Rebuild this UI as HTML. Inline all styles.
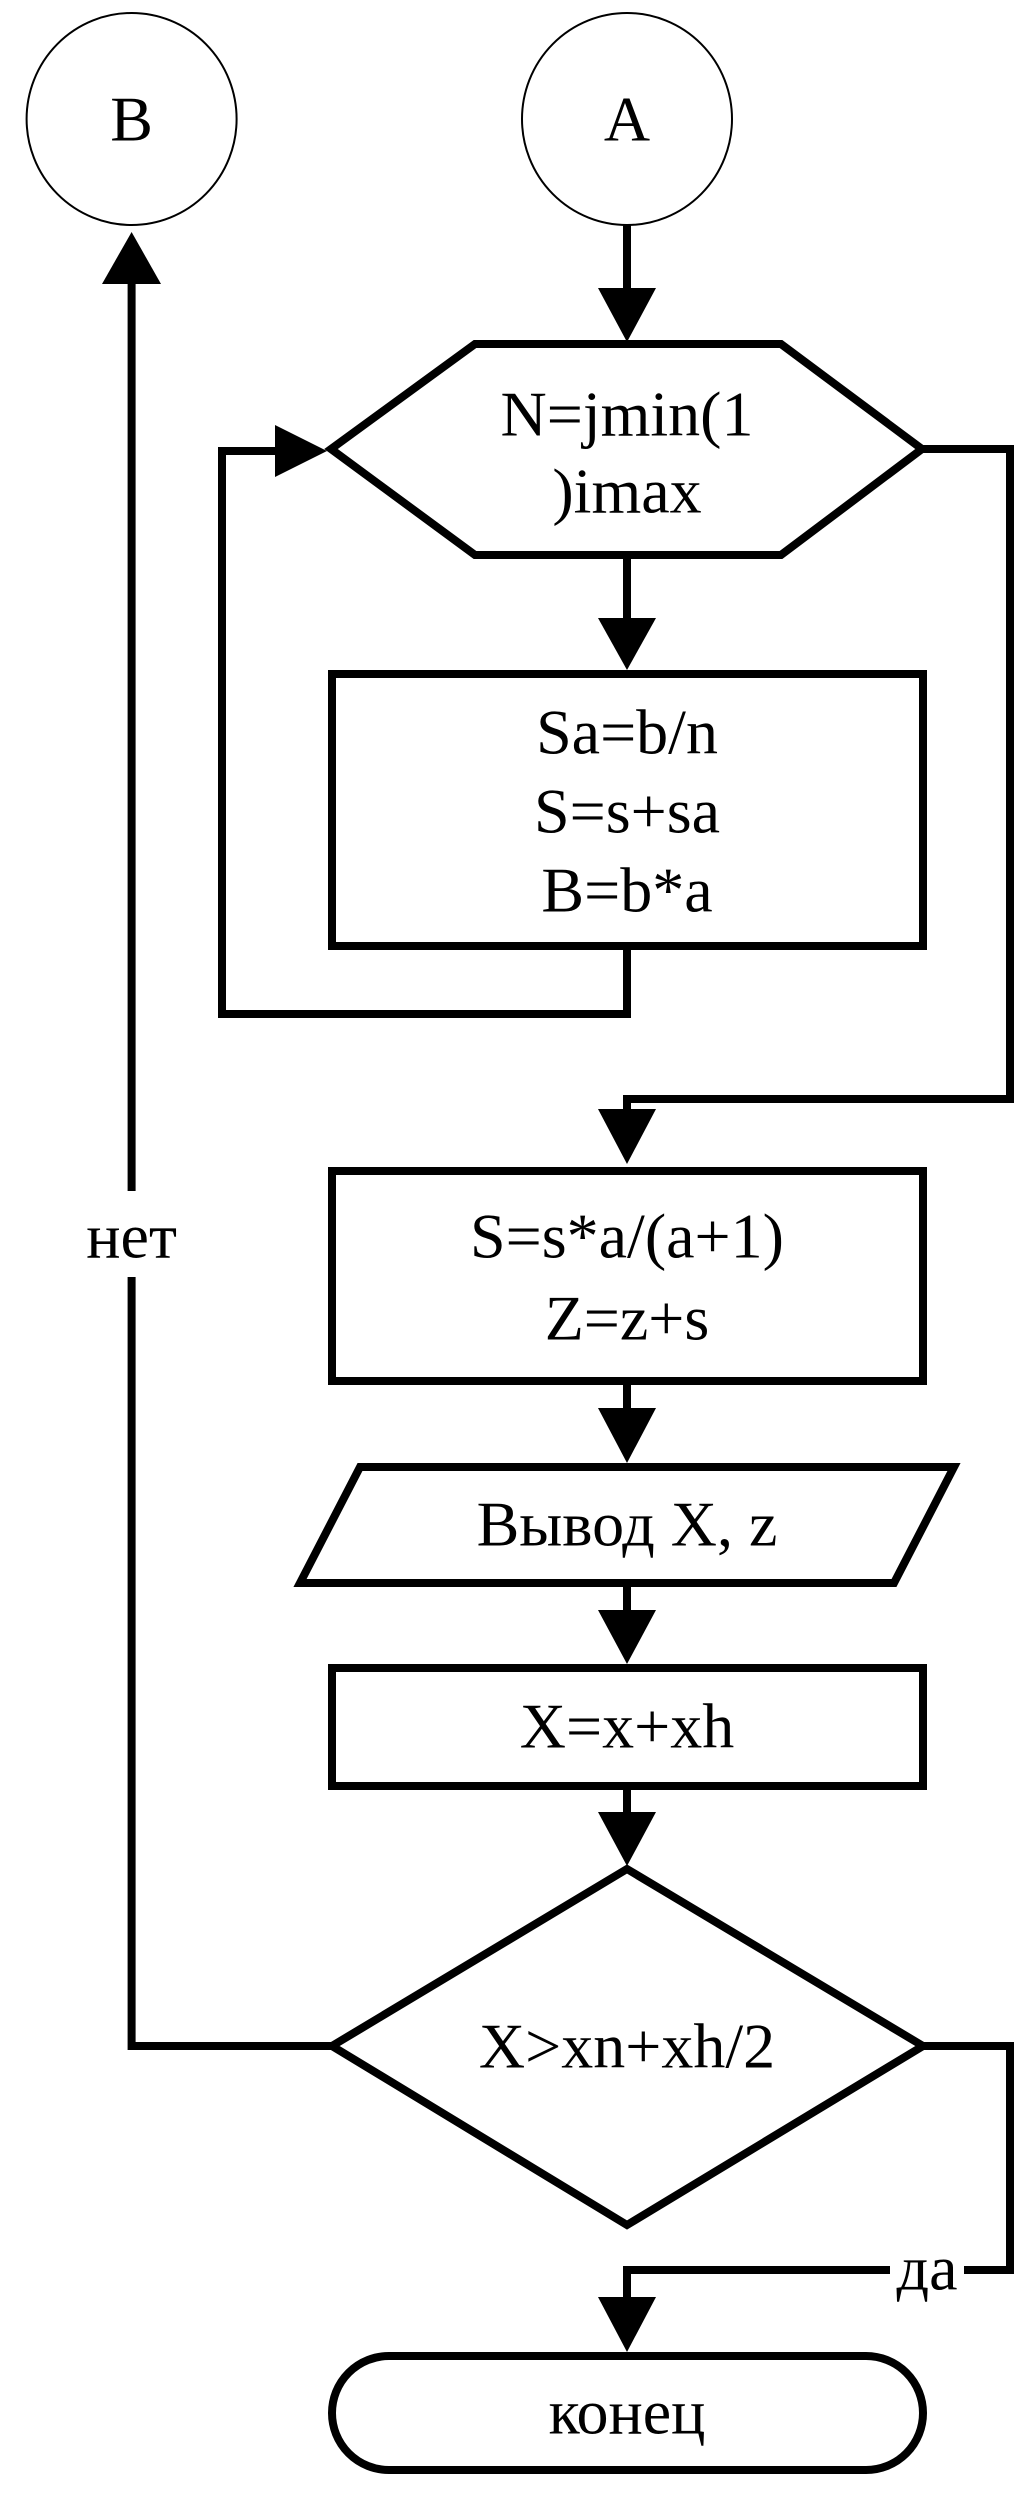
<!DOCTYPE html>
<html><head><meta charset="utf-8"><style>
html,body{margin:0;padding:0;background:#fff}
svg{display:block}
svg text{font-family:"Liberation Serif","Times New Roman",Times,serif;font-size:64px;fill:#000;text-anchor:middle;dominant-baseline:central}
</style></head><body>
<svg width="1015" height="2515" viewBox="0 0 1015 2515" xmlns="http://www.w3.org/2000/svg" font-family="Liberation Serif, serif">
<g fill="none" stroke="#000" stroke-width="8" stroke-linejoin="miter">
  <ellipse cx="131.6" cy="119" rx="105" ry="106" stroke-width="2"/>
  <ellipse cx="627" cy="119" rx="105" ry="106" stroke-width="2"/>
  <polyline points="332,2046 131.6,2046 131.6,1277"/>
  <line x1="131.6" y1="1191" x2="131.6" y2="280"/>
  <line x1="627" y1="225" x2="627" y2="290"/>
  <polygon points="475,344 781,344 922,449 781,555 475,555 331,449" fill="#fff"/>
  <line x1="627" y1="555" x2="627" y2="620"/>
  <rect x="332" y="674" width="591" height="272" fill="#fff"/>
  <polyline points="627,946 627,1014 222,1014 222,451 280,451"/>
  <polyline points="922,449 1010,449 1010,1099 627,1099 627,1112"/>
  <rect x="332" y="1171" width="591" height="210" fill="#fff"/>
  <line x1="627" y1="1381" x2="627" y2="1410"/>
  <polygon points="360,1467 954,1467 894,1583 300,1583" fill="#fff"/>
  <line x1="627" y1="1583" x2="627" y2="1612"/>
  <rect x="332" y="1668" width="591" height="118" fill="#fff"/>
  <line x1="627" y1="1786" x2="627" y2="1814"/>
  <polygon points="627,1869 923,2046 627,2225 332,2046" fill="#fff"/>
  <polyline points="923,2046 1010,2046 1010,2270 627,2270 627,2300"/>
  <rect x="332" y="2356" width="591" height="114" rx="57" ry="57" fill="#fff"/>
</g>
<g fill="#000">
  <polygon points="131.6,232 102,284 161,284"/>
  <polygon points="627,342 598,288 656,288"/>
  <polygon points="627,670 598,618 656,618"/>
  <polygon points="327,451 275,425 275,477"/>
  <polygon points="627,1164 598,1109 656,1109"/>
  <polygon points="627,1463 598,1408 656,1408"/>
  <polygon points="627,1664 598,1610 656,1610"/>
  <polygon points="627,1866 598,1812 656,1812"/>
  <polygon points="627,2352 598,2297 656,2297"/>
</g>
<g font-family="Liberation Serif, Times New Roman, serif" font-size="64">
<text x="131.6" y="119">B</text>
<text x="627" y="119">A</text>
<text x="627" y="414">N=jmin(1</text>
<text x="627" y="491">)imax</text>
<text x="627" y="732">Sa=b/n</text>
<text x="627" y="811">S=s+sa</text>
<text x="627" y="890">B=b*a</text>
<text x="627" y="1236">S=s*a/(a+1)</text>
<text x="627" y="1318">Z=z+s</text>
<text x="627" y="1524">Вывод X, z</text>
<text x="627" y="1726">X=x+xh</text>
<text x="627" y="2046">X&gt;xn+xh/2</text>
<text x="131.6" y="1236">нет</text>
<rect x="890" y="2248" width="74" height="50" fill="#fff"/>
<text x="927" y="2268">да</text>
<text x="627" y="2412">конец</text>
</g>
</svg>
</body></html>
